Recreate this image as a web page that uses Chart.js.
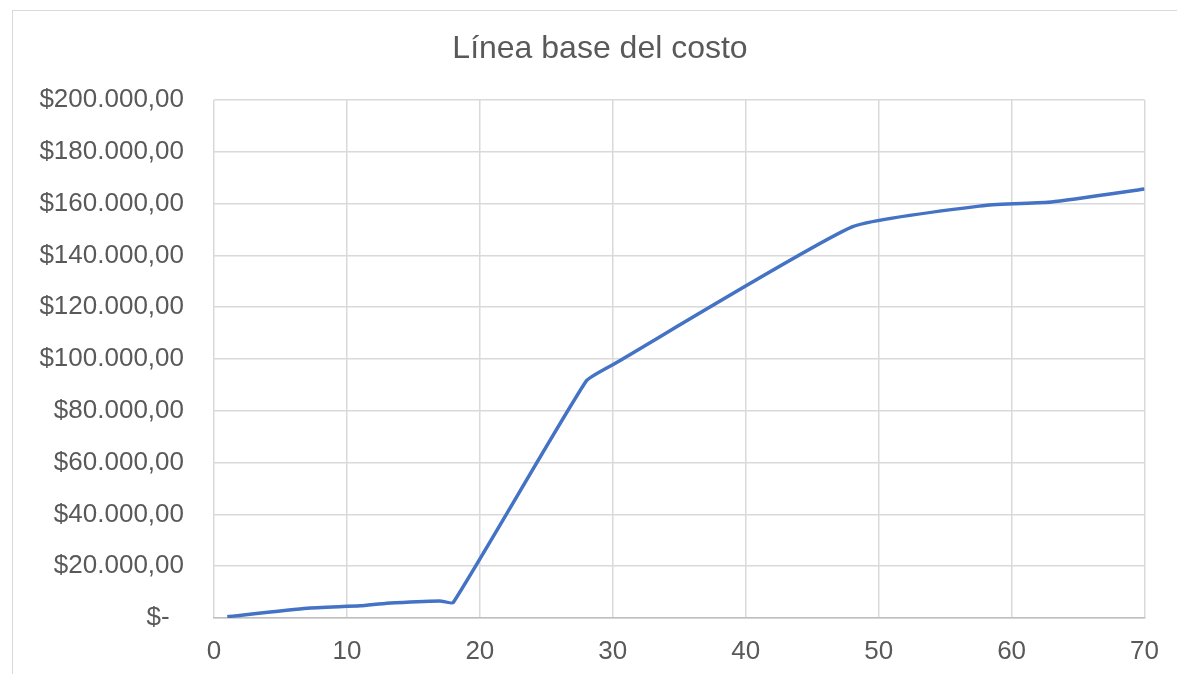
<!DOCTYPE html>
<html>
<head>
<meta charset="utf-8">
<script src="https://cdn.jsdelivr.net/npm/chart.js@4/dist/chart.umd.min.js"></script>
<style>
html,body{margin:0;padding:0;background:#fff;}
#wrap{position:relative;width:1177px;height:674px;}
#frame{position:absolute;left:12px;top:10px;width:1170px;height:670px;border:1px solid #d9d9d9;box-sizing:border-box;pointer-events:none;}
</style>
</head>
<body>
<div id="wrap">
<canvas id="c" width="1177" height="674"></canvas>
<div id="frame"></div>
</div>
<script>
const days = [1, 7, 11, 13, 17, 18, 28, 30, 48, 58, 63, 70];
const costs = [500, 3800, 4700, 5700, 6600, 6000, 91500, 97800, 151000, 159300, 160600, 165600];
const xTicks = [0, 10, 20, 30, 40, 50, 60, 70];
const title = 'Línea base del costo';

function fmt(v){
  if (v === 0) return '$-  ';
  const s = Math.round(v).toString().replace(/\B(?=(\d{3})+(?!\d))/g, '.');
  return '$' + s + ',00';
}

const points = days.map((d,i)=>({x:d,y:costs[i]}));
const FONT = '"Liberation Sans", Arial, sans-serif';

const titlePlugin = {
  id: 'centerTitle',
  afterDraw(chart){
    const ctx = chart.ctx;
    ctx.save();
    ctx.font = '32px ' + FONT;
    ctx.fillStyle = '#595959';
    ctx.textAlign = 'center';
    ctx.textBaseline = 'middle';
    ctx.fillText(title, 600, 49);
    ctx.restore();
  }
};

new Chart(document.getElementById('c'), {
  type: 'scatter',
  data: {datasets: [{
    data: points,
    showLine: true,
    borderColor: '#4472c4',
    borderWidth: 3.5,
    pointRadius: 0,
    tension: 0.15,
    fill: false
  }]},
  options: {
    responsive: false,
    animation: false,
    layout: {padding: {left: 0, right: 32, top: 100, bottom: 0}},
    plugins: {
      legend: {display: false},
      tooltip: {enabled: false},
      title: {display: false}
    },
    scales: {
      x: {
        type: 'linear',
        min: 0, max: 70,
        afterBuildTicks: (axis) => { axis.ticks = xTicks.map(v => ({value: v})); },
        ticks: {color: '#595959', padding: 18, font: {family: FONT, size: 26}},
        grid: {color: '#d9d9d9', lineWidth: 1.5, drawTicks: false},
        border: {color: '#bfbfbf', width: 1.5},
        afterFit: (axis) => { axis.height = 56; }
      },
      y: {
        min: 0, max: 200000,
        ticks: {stepSize: 20000, color: '#595959', padding: 30, callback: fmt,
          font: {family: FONT, size: 26}},
        grid: {color: '#d9d9d9', lineWidth: 1.5, drawTicks: false},
        border: {display: false},
        afterFit: (axis) => { axis.width = 214; }
      }
    }
  },
  plugins: [titlePlugin]
});
</script>
</body>
</html>
